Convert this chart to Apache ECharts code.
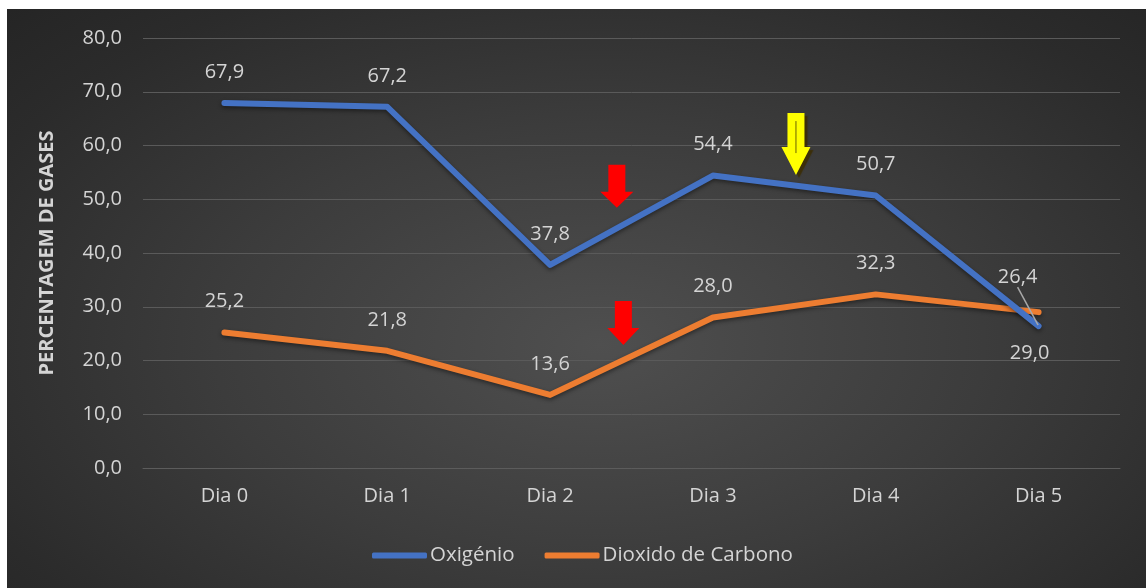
<!DOCTYPE html>
<html>
<head>
<meta charset="utf-8">
<script src="https://cdn.jsdelivr.net/npm/echarts@6/dist/echarts.min.js"></script>
<style>
  html, body { margin: 0; padding: 0; background: #ffffff; }
  #chart {
    position: absolute; left: 7px; top: 9px; width: 1139px; height: 579px;
    background: radial-gradient(ellipse 75% 85% at 52% 58%, #4f4f4f 0%, #3c3c3c 45%, #2b2b2b 80%, #242424 100%);
  }
</style>
</head>
<body>
<div id="chart"></div>
<script>
// Days of measurement
const categories = ['Dia 0', 'Dia 1', 'Dia 2', 'Dia 3', 'Dia 4', 'Dia 5'];
// Gas percentages per day
const oxigenio = [67.9, 67.2, 37.8, 54.4, 50.7, 26.4];
const dioxidoCarbono = [25.2, 21.8, 13.6, 28.0, 32.3, 29.0];
const seriesNames = ['Oxigénio', 'Dioxido de Carbono'];
const yTicks = { min: 0, max: 80, interval: 10 };

// Arrow annotations: [category position, value at tip, colour, total height, head width, head height]
const arrows = [
  [2.41, 48.4, '#ff0000', 43, 33, 16],
  [2.45, 22.9, '#ff0000', 44, 32, 17],
  [3.51, 54.5, '#ffff00', 62, 29, 28]
];

const FONT = '"Open Sans", "Noto Sans", sans-serif';
const TXT = '#d4d4d4';
const FS = 20;
const fmt = v => v.toFixed(1).replace('.', ',');

const chart = echarts.init(document.getElementById('chart'), null, { renderer: 'canvas' });

function labelData(values, lastLabel) {
  return values.map((v, i) => {
    if (i !== values.length - 1) return v;
    return Object.assign({ value: v }, lastLabel);
  });
}

function lineSeries(name, values, color, lastItem, lastShift, z) {
  return {
    name,
    type: 'line',
    data: labelData(values, lastItem),
    symbol: 'circle',
    symbolSize: 2,
    showSymbol: true,
    itemStyle: { color },
    color,
    lineStyle: { width: 6, color, shadowColor: 'rgba(0,0,0,0.45)', shadowBlur: 4, shadowOffsetY: 2, join: 'round', cap: 'round' },
    label: { show: true, position: 'top', distance: 20, color: TXT, fontFamily: FONT, fontSize: FS, formatter: p => fmt(p.value) },
    labelLayout: p => (p.dataIndex === values.length - 1 ? lastShift : {}),
    emphasis: { disabled: true },
    z
  };
}

chart.setOption({
  backgroundColor: 'transparent',
  animation: false,
  grid: { left: 136, top: 29, right: 26, bottom: 120 },
  xAxis: {
    type: 'category',
    data: categories,
    boundaryGap: true,
    axisLine: { show: true, lineStyle: { color: '#5c5c5c', width: 1 } },
    axisTick: { show: false },
    axisLabel: { color: TXT, fontFamily: FONT, fontSize: FS, margin: 18 }
  },
  yAxis: {
    type: 'value',
    min: yTicks.min, max: yTicks.max, interval: yTicks.interval,
    name: 'PERCENTAGEM DE GASES',
    nameLocation: 'middle',
    nameGap: 86,
    nameTextStyle: { color: TXT, fontFamily: FONT, fontSize: 20, fontWeight: 'bold' },
    axisLine: { show: false },
    axisTick: { show: false },
    axisLabel: { color: TXT, fontFamily: FONT, fontSize: FS, margin: 21, formatter: v => fmt(v) },
    splitLine: { lineStyle: { color: '#5a5a5a', width: 1 } }
  },
  legend: {
    left: 360, top: 531,
    itemWidth: 55, itemHeight: 6, itemGap: 30,
    icon: 'roundRect',
    textStyle: { color: TXT, fontFamily: FONT, fontSize: 20.5, padding: [0, 0, 0, -2] },
    data: seriesNames
  },
  series: [
    lineSeries(seriesNames[0], oxigenio, '#4472c4', {
      label: { position: 'top', distance: 20 },
      labelLine: { show: true, lineStyle: { color: '#a8a8a8', width: 1.5 } }
    }, { dx: -21, dy: -18 }, 3),
    lineSeries(seriesNames[1], dioxidoCarbono, '#ed7d31', {
      label: { position: 'bottom', distance: 30 }
    }, { dx: -9 }, 2)
  ]
});

// Place the arrow annotations in axis space
function arrowGraphics() {
  return arrows.map(([pos, val, color, h, hw, hh], i) => {
    const i0 = Math.floor(pos), f = pos - i0;
    const a = chart.convertToPixel({ gridIndex: 0 }, [i0, val]);
    const b = chart.convertToPixel({ gridIndex: 0 }, [i0 + 1, val]);
    const tx = a[0] + (b[0] - a[0]) * f, ty = a[1];
    const sw = 17;
    const pts = [
      [tx - sw / 2, ty - h], [tx + sw / 2, ty - h], [tx + sw / 2, ty - hh],
      [tx + hw / 2, ty - hh], [tx, ty], [tx - hw / 2, ty - hh], [tx - sw / 2, ty - hh]
    ];
    const isYellow = color === '#ffff00';
    const children = [{
      type: 'polygon',
      shape: { points: pts },
      style: isYellow
        ? { fill: color, shadowColor: 'rgba(60,45,0,0.85)', shadowOffsetX: 3, shadowOffsetY: 3, shadowBlur: 1 }
        : { fill: color }
    }];
    if (isYellow) {
      children.push({
        type: 'line',
        shape: { x1: tx, y1: ty - h + 8, x2: tx, y2: ty - hh + 6 },
        style: { stroke: 'rgba(70,60,0,0.8)', lineWidth: 1 }
      });
    }
    return { type: 'group', id: 'arrow' + i, z: 10, children };
  });
}
chart.setOption({ graphic: arrowGraphics() });
</script>
</body>
</html>
